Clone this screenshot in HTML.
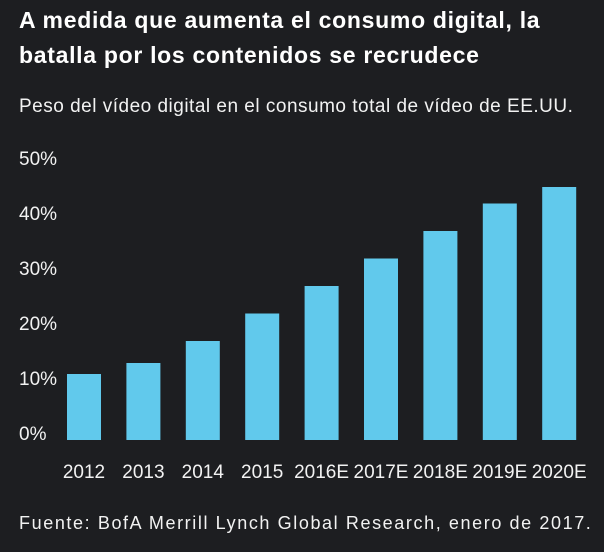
<!DOCTYPE html>
<html><head><meta charset="utf-8"><style>
html,body{margin:0;padding:0;background:#1d1e21;}
body{width:604px;height:552px;overflow:hidden;position:relative;font-family:"Liberation Sans",sans-serif;color:#f2f2f2;}
.t{position:absolute;left:19px;font-weight:bold;font-size:23px;letter-spacing:0.7px;line-height:35px;top:3px;color:#fff;white-space:nowrap;}
.s{position:absolute;left:19px;top:96px;font-size:19px;letter-spacing:0.5px;white-space:nowrap;}
.f{position:absolute;left:19px;top:513px;font-size:18px;letter-spacing:1.6px;white-space:nowrap;}
svg{position:absolute;left:0;top:0;}
</style></head><body>
<div class="t">A medida que aumenta el consumo digital, la<br>batalla por los contenidos se recrudece</div>
<div class="s">Peso del vídeo digital en el consumo total de vídeo de EE.UU.</div>
<svg id="c" width="604" height="552"></svg>
<div class="f">Fuente: BofA Merrill Lynch Global Research, enero de 2017.</div>
<script>
const categories=["2012","2013","2014","2015","2016E","2017E","2018E","2019E","2020E"];
const values=[12,14,18,23,28,33,38,43,46];
const ticks=[0,10,20,30,40,50];
const tickLabels=["0%","10%","20%","30%","40%","50%"];
const svg=document.getElementById('c');
const NS="http://www.w3.org/2000/svg";
const base=440,k=5.5,x0=84,step=59.4,bw=34;
const y=v=>base-v*k;
const x=i=>x0+i*step;
ticks.forEach((t,i)=>{
 const e=document.createElementNS(NS,'text');
 
 
 e.setAttribute('x',19);e.setAttribute('y',y(t)-7+7);
 e.setAttribute('font-size','19');e.setAttribute('fill','#f2f2f2');
 e.setAttribute('font-family','Liberation Sans, sans-serif');
 e.textContent=tickLabels[i];svg.appendChild(e);
});
categories.forEach((c,i)=>{
 const r=document.createElementNS(NS,'rect');
 
 
 r.setAttribute('x',x(i)-bw/2);r.setAttribute('y',y(values[i]));
 r.setAttribute('width',bw);r.setAttribute('height',base-y(values[i]));
 r.setAttribute('fill','#61c9ec');svg.appendChild(r);
 const e=document.createElementNS(NS,'text');
 
 
 e.setAttribute('x',x(i));e.setAttribute('y',478);
 e.setAttribute('text-anchor','middle');
 e.setAttribute('font-size','19');e.setAttribute('fill','#f2f2f2');
 e.setAttribute('font-family','Liberation Sans, sans-serif');
 e.textContent=c;svg.appendChild(e);
});
</script>
</body></html>
